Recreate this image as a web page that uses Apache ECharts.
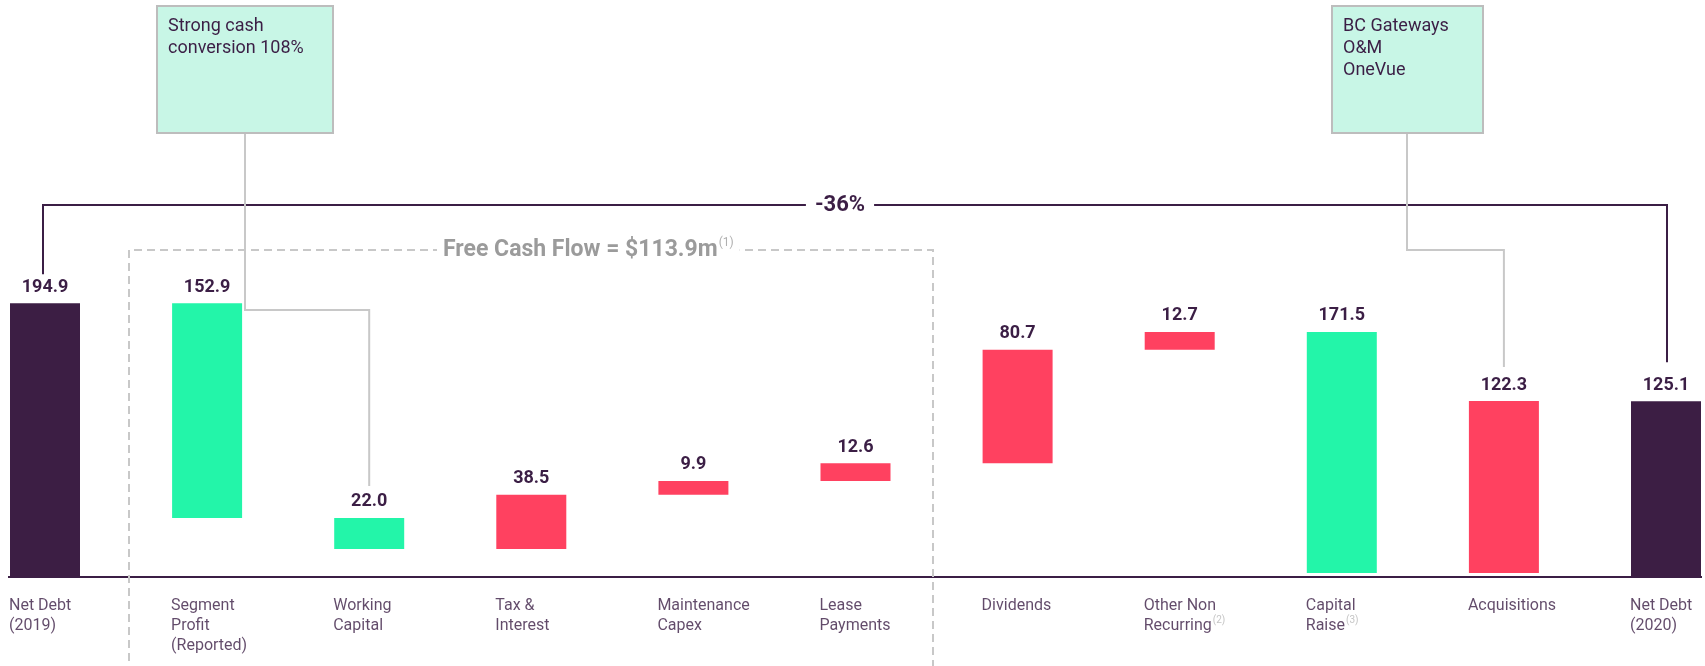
<!DOCTYPE html>
<html><head><meta charset="utf-8">
<script src="https://cdn.jsdelivr.net/npm/echarts@6/dist/echarts.min.js"></script>
<style>html,body{margin:0;padding:0;background:#fff}#c{width:1705px;height:666px}</style>
</head><body><div id="c"></div>
<script>
// ---- data ----
const categories = ['Net Debt\n(2019)', 'Segment\nProfit\n(Reported)', 'Working\nCapital', 'Tax &\nInterest',
  'Maintenance\nCapex', 'Lease\nPayments', 'Dividends', 'Other Non\nRecurring', 'Capital\nRaise', 'Acquisitions', 'Net Debt\n(2020)'];
const footnotes = ['', '', '', '', '', '', '', '(2)', '(3)', '', ''];
const values = [194.9, 152.9, 22.0, 38.5, 9.9, 12.6, 80.7, 12.7, 171.5, 122.3, 125.1];
const kinds = ['total', 'decrease', 'decrease', 'increase', 'increase', 'increase', 'increase', 'increase', 'decrease', 'increase', 'total'];
const boxTexts = ['Strong cash\nconversion 108%', 'BC Gateways\nO&M\nOneVue'];
const changeText = '-36%';
const fcfText = 'Free Cash Flow = $113.9m';
const fcfNote = '(1)';

// ---- styles ----
const C_DARK = '#3c1e44', C_GREEN = '#23f5a9', C_RED = '#ff4160', C_TEXT = '#3b1e45', C_GREY = '#c8c8c8';
const FONT = 'Roboto';

// waterfall ranges from running total
const bases = [];
let run = 0;
values.forEach((v, i) => {
  const k = kinds[i];
  if (k === 'total') { bases.push(0); run = v; }
  else if (k === 'decrease') { run -= v; bases.push(run); }
  else { bases.push(run); run += v; }
});
const colorOf = k => k === 'total' ? C_DARK : (k === 'decrease' ? C_GREEN : C_RED);

const W = 1705, band = 162.1, firstCenter = 45, base0 = 577, pxPerUnit = 1.405, yMax = 250, barW = 70;
const gridH = yMax * pxPerUnit;
const gridTop = base0 - gridH;
const xMin = -firstCenter / band;
const xMax = xMin + W / band;

const chart = echarts.init(document.getElementById('c'), null, {renderer: 'canvas'});
chart.setOption({
  animation: false,
  backgroundColor: '#fff',
  textStyle: {fontFamily: FONT},
  grid: {left: 0, width: W, top: gridTop, height: gridH},
  xAxis: {type: 'value', min: xMin, max: xMax, show: false},
  yAxis: {type: 'value', min: 0, max: yMax, show: false},
  series: [
    {type: 'custom', clip: false,
      data: values.map((v, i) => [i, bases[i], bases[i] + v, v]),
      renderItem: (params, api) => {
        const i = api.value(0);
        const pLo = api.coord([i, api.value(1)]);
        const pHi = api.coord([i, api.value(2)]);
        return {type: 'group', children: [
          {type: 'rect', shape: {x: pHi[0] - barW / 2, y: pHi[1], width: barW, height: pLo[1] - pHi[1]},
            style: {fill: colorOf(kinds[params.dataIndex])}},
          {type: 'text', x: pHi[0], y: pHi[1] - 7,
            style: {text: Number(api.value(3)).toFixed(1), align: 'center', verticalAlign: 'bottom',
              fontFamily: FONT, fontSize: 18, fontWeight: 'bold', fill: C_TEXT}}
        ]};
      }},
    {type: 'scatter', clip: false, silent: true, symbolSize: 1, itemStyle: {color: 'rgba(0,0,0,0)'},
      data: categories.map((c, i) => [i, 0]),
      label: {show: true, position: [-35.5, 19], align: 'left', verticalAlign: 'top',
        formatter: p => categories[p.dataIndex].split('\n').map(l => '{t|' + l + '}').join('\n') +
          (footnotes[p.dataIndex] ? '{s|' + footnotes[p.dataIndex] + '}' : ''),
        rich: {
          t: {fontFamily: FONT, fontSize: 16, lineHeight: 20, color: C_TEXT, align: 'left'},
          s: {fontFamily: FONT, fontSize: 10, lineHeight: 20, color: '#b5b5b5', verticalAlign: 'top', padding: [0, 0, 0, 1], align: 'left'}
        }}}
  ]
});

// ---- annotations, anchored to data positions ----
const P = (i, v) => chart.convertToPixel({xAxisIndex: 0, yAxisIndex: 0}, [i, v]);
const n = categories.length;
const xc = i => P(i, 0)[0];
const yTop = i => P(i, bases[i] + values[i])[1];
const yBase = P(0, 0)[1];
const yBr = 205;

const g = [];
// baseline
g.push({type: 'line', shape: {x1: xc(0) - 37, y1: yBase, x2: xc(n - 1) + 36, y2: yBase}, style: {stroke: C_TEXT, lineWidth: 2}});
// dashed free-cash-flow box
g.push({type: 'polyline', shape: {points: [[129, 700], [129, 250], [933, 250], [933, 700]]},
  style: {stroke: C_GREY, lineWidth: 2, lineDash: [8, 5], fill: null}});
g.push({type: 'text', style: {text: '{a|' + fcfText + '}{b|' + fcfNote + '}', x: 437, y: 250, verticalAlign: 'middle', align: 'left',
  backgroundColor: '#fff', padding: [0, 6, 0, 6],
  rich: {a: {fontFamily: FONT, fontSize: 23, fontWeight: 'bold', fill: '#9b9b9b', lineHeight: 26},
    b: {fontFamily: FONT, fontSize: 12, fill: '#b0b0b0', verticalAlign: 'top', lineHeight: 26, padding: [0, 0, 0, 1]}}}});
// bracket
g.push({type: 'polyline', shape: {points: [[xc(0) - 2, yTop(0) - 29], [xc(0) - 2, yBr], [xc(n - 1) + 1, yBr], [xc(n - 1) + 1, yTop(n - 1) - 39]]},
  style: {stroke: C_TEXT, lineWidth: 2, fill: null}});
g.push({type: 'text', style: {text: changeText, x: 840, y: yBr, align: 'center', verticalAlign: 'middle', backgroundColor: '#fff', padding: [0, 9],
  fontFamily: FONT, fontSize: 22, fontWeight: 'bold', fill: C_TEXT}});
// connectors
g.push({type: 'polyline', shape: {points: [[245, 133], [245, 310], [xc(2), 310], [xc(2), yTop(2) - 32]]}, style: {stroke: C_GREY, lineWidth: 2, fill: null}});
g.push({type: 'polyline', shape: {points: [[1407, 133], [1407, 250], [xc(9), 250], [xc(9), yTop(9) - 34]]}, style: {stroke: C_GREY, lineWidth: 2, fill: null}});
// note boxes
[[157, 176, boxTexts[0]], [1332, 151, boxTexts[1]]].forEach(([x, w, t]) => {
  g.push({type: 'rect', shape: {x: x, y: 6, width: w, height: 127}, style: {fill: '#c8f6e6', stroke: '#bdbdbd', lineWidth: 2}});
  g.push({type: 'text', style: {text: t, x: x + 11, y: 15, align: 'left', verticalAlign: 'top', fontFamily: FONT, fontSize: 18, lineHeight: 22, fill: C_TEXT}});
});
chart.setOption({graphic: g});
</script></body></html>
